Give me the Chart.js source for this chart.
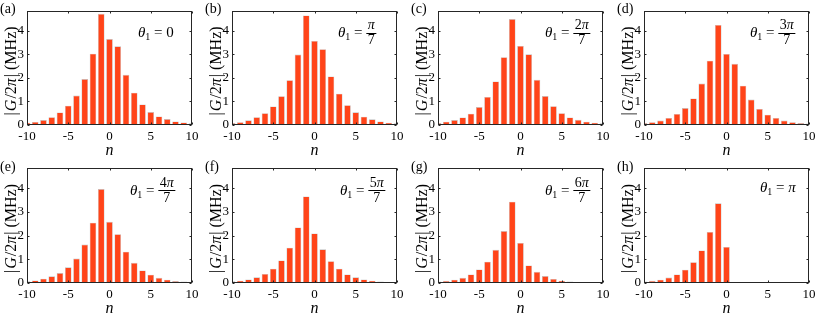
<!DOCTYPE html>
<html>
<head>
<meta charset="utf-8">
<script src="https://cdn.jsdelivr.net/npm/chart.js@4"></script>
<style>
  body { margin: 0; background: #fff; width: 817px; height: 315px; overflow: hidden; position: relative; }
  canvas { position: absolute; }
</style>
</head>
<body>
<script>
// Data (|G/2pi| in MHz for n = -10..10)
const nValues = [-10, -9, -8, -7, -6, -5, -4, -3, -2, -1, 0, 1, 2, 3, 4, 5, 6, 7, 8, 9, 10];
const gTheta0    = [0.10, 0.13, 0.21, 0.33, 0.53, 0.82, 1.25, 1.95, 3.03, 4.72, 3.65, 3.34, 2.13, 1.37, 0.87, 0.55, 0.36, 0.25, 0.15, 0.11, 0.07];
const gThetaPi7  = [0.08, 0.12, 0.20, 0.33, 0.50, 0.79, 1.22, 1.90, 2.99, 4.65, 3.57, 3.22, 2.06, 1.33, 0.84, 0.54, 0.35, 0.24, 0.15, 0.10, 0.07];
const gTheta2Pi7 = [0.08, 0.14, 0.21, 0.32, 0.48, 0.76, 1.19, 1.85, 2.88, 4.50, 3.36, 3.00, 1.92, 1.23, 0.80, 0.50, 0.32, 0.22, 0.14, 0.10, 0.07];
const gTheta3Pi7 = [0.08, 0.12, 0.19, 0.30, 0.47, 0.72, 1.13, 1.76, 2.73, 4.25, 3.02, 2.60, 1.67, 1.08, 0.68, 0.44, 0.30, 0.19, 0.12, 0.08, 0.06];
const gTheta4Pi7 = [0.07, 0.11, 0.18, 0.28, 0.42, 0.66, 1.03, 1.62, 2.54, 3.96, 2.58, 2.06, 1.32, 0.85, 0.53, 0.35, 0.22, 0.14, 0.08, 0.06, 0.03];
const gTheta5Pi7 = [0.07, 0.10, 0.15, 0.24, 0.38, 0.60, 0.95, 1.49, 2.34, 3.65, 2.09, 1.42, 0.92, 0.60, 0.36, 0.24, 0.15, 0.10, 0.06, 0.03, 0.02];
const gTheta6Pi7 = [0.06, 0.09, 0.14, 0.22, 0.36, 0.57, 0.90, 1.40, 2.19, 3.43, 1.69, 0.74, 0.47, 0.29, 0.17, 0.10, 0.06, 0.03, 0.02, 0.01, 0.01];
const gThetaPi   = [0.06, 0.09, 0.14, 0.23, 0.36, 0.56, 0.88, 1.37, 2.15, 3.36, 1.52, 0, 0, 0, 0, 0, 0, 0, 0, 0, 0];
const allSeries = [gTheta0, gThetaPi7, gTheta2Pi7, gTheta3Pi7, gTheta4Pi7, gTheta5Pi7, gTheta6Pi7, gThetaPi];

const xTicks = [-10, -5, 0, 5, 10];
const yTicks = [0, 1, 2, 3, 4];
const panelTags = ['(a)', '(b)', '(c)', '(d)', '(e)', '(f)', '(g)', '(h)'];
const thetaNum = ['0', 'π', '2π', '3π', '4π', '5π', '6π', 'π'];
const thetaDen = [null, '7', '7', '7', '7', '7', '7', null];

// layout (pixels)
const plotLefts = [27, 232, 438, 644];
const plotWidth = 165;
const canvasW = 206;
const rows = [{ top: 0, height: 157, plotTop: 9, plotBottom: 125 },
              { top: 157, height: 158, plotTop: 11, plotBottom: 126 }];
const thetaX = [111, 106, 107, 106, 103, 108, 107, 116];
const thetaAxisY = [22, 22, 22, 22, 22, 22, 22, 19];

const SERIF = '"Liberation Serif", "DejaVu Serif", serif';
const BAR_COLOR = '#ff4419';

function drawSegments(ctx, segs, x, y) {
  segs.forEach(s => {
    ctx.font = s.f;
    ctx.fillText(s.t, x, y + (s.dy || 0));
    x += ctx.measureText(s.t).width + (s.gap || 0);
  });
  return x;
}
function segWidth(ctx, segs) {
  let w = 0;
  segs.forEach(s => { ctx.font = s.f; w += ctx.measureText(s.t).width + (s.gap || 0); });
  return w;
}
function mathSegs(str, size) {
  // digits upright, pi italic
  return str.split('').map(ch => ({ t: ch, f: (ch === 'π' ? 'italic ' : '') + size + 'px ' + SERIF }));
}

const framePlugin = {
  id: 'frame',
  afterDraw(chart) {
    const p = chart.options.plugins.frame;
    const ctx = chart.ctx;
    const a = chart.chartArea;
    const xs = chart.scales.x, ys = chart.scales.y;
    ctx.save();
    ctx.strokeStyle = '#262626';
    ctx.lineWidth = 1;
    const L = Math.round(a.left) + 0.5, R = Math.round(a.right) - 0.5;
    const T = Math.round(a.top) + 0.5, B = Math.round(a.bottom) - 0.5;
    ctx.strokeRect(L, T, R - L, B - T);
    ctx.beginPath();
    xTicks.forEach(v => {
      const px = Math.round(xs.getPixelForValue(v)) + 0.5;
      ctx.moveTo(px, B); ctx.lineTo(px, B - 2);
      ctx.moveTo(px, T); ctx.lineTo(px, T + 2);
    });
    yTicks.forEach(v => {
      const py = Math.round(ys.getPixelForValue(v)) + 0.5;
      ctx.moveTo(L, py); ctx.lineTo(L + 2, py);
      ctx.moveTo(R, py); ctx.lineTo(R - 2, py);
    });
    ctx.stroke();

    ctx.fillStyle = '#000';
    // x title
    ctx.textAlign = 'center';
    ctx.textBaseline = 'alphabetic';
    ctx.font = 'italic 16px ' + SERIF;
    ctx.fillText('n', (a.left + a.right) / 2, a.bottom + 30);

    // y title, rotated
    const ySegs = [
      { t: '|', f: '16px ' + SERIF, gap: 1 },
      { t: 'G', f: 'italic 16px ' + SERIF, gap: 1 },
      { t: '/', f: '16px ' + SERIF },
      { t: '2', f: '16px ' + SERIF },
      { t: 'π', f: 'italic 16px ' + SERIF, gap: 1 },
      { t: '|', f: '16px ' + SERIF },
      { t: ' (MHz)', f: '16px ' + SERIF }
    ];
    ctx.save();
    ctx.translate(a.left - 15, (a.top + a.bottom) / 2 + 3);
    ctx.rotate(-Math.PI / 2);
    ctx.textAlign = 'left';
    ctx.textBaseline = 'middle';
    drawSegments(ctx, ySegs, -segWidth(ctx, ySegs) / 2, 0);
    ctx.restore();

    // panel tag
    ctx.textAlign = 'left';
    ctx.textBaseline = 'middle';
    ctx.font = '14px ' + SERIF;
    ctx.fillText(p.tag, 0, a.top - 1);

    // theta annotation
    ctx.textBaseline = 'alphabetic';
    const axisY = a.top + p.axisY;
    const base = axisY + 4.5;
    let x = a.left + p.tx;
    x = drawSegments(ctx, [
      { t: 'θ', f: 'italic 15px ' + SERIF },
      { t: '1', f: '10px ' + SERIF, dy: 3 },
      { t: ' = ', f: '15px ' + SERIF }
    ], x, base);
    if (!p.den) {
      drawSegments(ctx, mathSegs(p.num, 15), x, base);
    } else {
      const numSegs = mathSegs(p.num, 14);
      const denSegs = mathSegs(p.den, 14);
      const nw = segWidth(ctx, numSegs), dw = segWidth(ctx, denSegs);
      const fw = Math.max(nw, dw) + 3;
      drawSegments(ctx, numSegs, x + (fw - nw) / 2, axisY - 3.5);
      drawSegments(ctx, denSegs, x + (fw - dw) / 2, axisY + 11.5);
      ctx.fillRect(x, Math.round(axisY), fw, 1);
    }
    ctx.restore();
  }
};

function makePanel(i) {
  const col = i % 4, row = rows[Math.floor(i / 4)];
  const cv = document.createElement('canvas');
  cv.width = canvasW;
  cv.height = row.height;
  cv.style.left = (plotLefts[col] - 27) + 'px';
  cv.style.top = row.top + 'px';
  document.body.appendChild(cv);
  const series = allSeries[i];
  const tickFont = { family: SERIF, size: 13 };
  new Chart(cv, {
    type: 'bar',
    data: {
      datasets: [{
        data: nValues.map((n, k) => ({ x: n, y: series[k] })),
        backgroundColor: BAR_COLOR,
        borderColor: 'rgba(185,185,185,0.9)',
        borderWidth: 0.6,
        borderSkipped: 'start',
        barPercentage: 0.8,
        categoryPercentage: 1,
        clip: 0
      }]
    },
    options: {
      responsive: false,
      animation: false,
      events: [],
      layout: { padding: { top: row.plotTop, right: canvasW - 27 - plotWidth, left: 0, bottom: 0 } },
      plugins: {
        legend: { display: false },
        tooltip: { enabled: false },
        frame: { tag: panelTags[i], num: thetaNum[i], den: thetaDen[i], tx: thetaX[i], axisY: thetaAxisY[i] }
      },
      scales: {
        x: {
          type: 'linear', min: -10, max: 10, offset: false,
          grid: { display: false, drawTicks: false, offset: false }, border: { display: false },
          ticks: { color: '#000', font: tickFont, padding: 4, maxRotation: 0, autoSkip: false },
          afterBuildTicks: s => { s.ticks = xTicks.map(v => ({ value: v })); },
          afterFit: s => { s.height = row.height - row.plotBottom; }
        },
        y: {
          min: 0, max: 4.85,
          grid: { display: false, drawTicks: false }, border: { display: false },
          ticks: { color: '#000', font: tickFont, padding: 3 },
          afterBuildTicks: s => { s.ticks = yTicks.map(v => ({ value: v })); },
          afterFit: s => { s.width = 27; }
        }
      }
    },
    plugins: [framePlugin]
  });
}

for (let i = 0; i < 8; i++) makePanel(i);
</script>
</body>
</html>
